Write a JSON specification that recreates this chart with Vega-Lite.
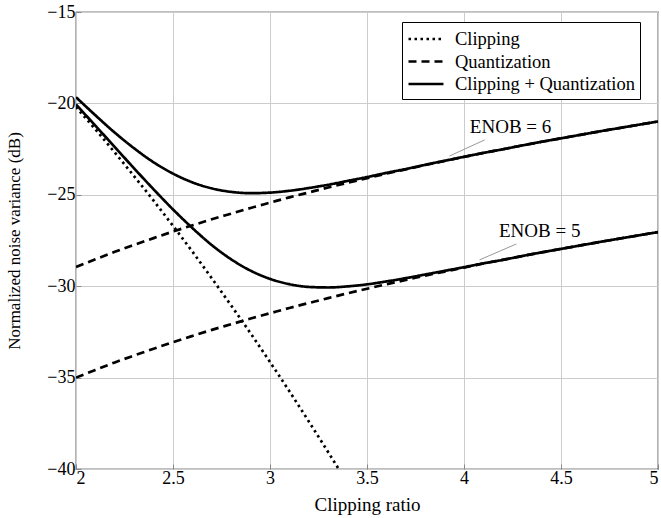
{
  "$schema": "https://vega.github.io/schema/vega-lite/v6.json",
  "autosize": "none",
  "width": 582,
  "height": 457,
  "padding": {"left": 76, "top": 12, "right": 3, "bottom": 49},
  "background": "white",
  "config": {
    "font": "Liberation Serif",
    "view": {"stroke": "black", "strokeWidth": 1.2},
    "axis": {
      "grid": true, "gridColor": "#cccccc", "gridWidth": 1,
      "domain": false,
      "ticks": true, "tickSize": -5, "tickColor": "#888888",
      "labelFont": "Liberation Serif", "labelFontSize": 18, "labelColor": "black",
      "titleFont": "Liberation Serif", "titleFontSize": 17, "titleFontWeight": "normal", "titleColor": "black"
    },
    "legend": {
      "orient": "none", "legendX": 326, "legendY": 10,
      "symbolType": "M-1,0H2.33", "symbolStrokeColor": "black", "symbolStrokeWidth": 2.5,
      "symbolSize": 441,
      "labelFont": "Liberation Serif", "labelFontSize": 18.5, "labelColor": "black",
      "labelOffset": 24, "labelLimit": 400,
      "strokeColor": "black", "fillColor": "white", "padding": 5, "rowPadding": 0.5
    }
  },
  "datasets": {
    "curves": [
      {"s": "clip", "k": "Clipping", "x": 2.0, "y": -20.20},
      {"s": "clip", "k": "Clipping", "x": 2.1, "y": -21.42},
      {"s": "clip", "k": "Clipping", "x": 2.2, "y": -22.69},
      {"s": "clip", "k": "Clipping", "x": 2.3, "y": -23.99},
      {"s": "clip", "k": "Clipping", "x": 2.4, "y": -25.32},
      {"s": "clip", "k": "Clipping", "x": 2.5, "y": -26.70},
      {"s": "clip", "k": "Clipping", "x": 2.6, "y": -28.11},
      {"s": "clip", "k": "Clipping", "x": 2.7, "y": -29.57},
      {"s": "clip", "k": "Clipping", "x": 2.8, "y": -31.06},
      {"s": "clip", "k": "Clipping", "x": 2.9, "y": -32.58},
      {"s": "clip", "k": "Clipping", "x": 3.0, "y": -34.15},
      {"s": "clip", "k": "Clipping", "x": 3.1, "y": -35.75},
      {"s": "clip", "k": "Clipping", "x": 3.2, "y": -37.40},
      {"s": "clip", "k": "Clipping", "x": 3.3, "y": -39.08},
      {"s": "clip", "k": "Clipping", "x": 3.354, "y": -40.0},

      {"s": "q6", "k": "Quantization", "x": 2.0, "y": -28.95},
      {"s": "q6", "k": "Quantization", "x": 2.1, "y": -28.53},
      {"s": "q6", "k": "Quantization", "x": 2.2, "y": -28.12},
      {"s": "q6", "k": "Quantization", "x": 2.3, "y": -27.74},
      {"s": "q6", "k": "Quantization", "x": 2.4, "y": -27.37},
      {"s": "q6", "k": "Quantization", "x": 2.5, "y": -27.01},
      {"s": "q6", "k": "Quantization", "x": 2.6, "y": -26.67},
      {"s": "q6", "k": "Quantization", "x": 2.7, "y": -26.34},
      {"s": "q6", "k": "Quantization", "x": 2.8, "y": -26.03},
      {"s": "q6", "k": "Quantization", "x": 2.9, "y": -25.72},
      {"s": "q6", "k": "Quantization", "x": 3.0, "y": -25.43},
      {"s": "q6", "k": "Quantization", "x": 3.1, "y": -25.14},
      {"s": "q6", "k": "Quantization", "x": 3.2, "y": -24.87},
      {"s": "q6", "k": "Quantization", "x": 3.3, "y": -24.60},
      {"s": "q6", "k": "Quantization", "x": 3.4, "y": -24.34},
      {"s": "q6", "k": "Quantization", "x": 3.5, "y": -24.09},
      {"s": "q6", "k": "Quantization", "x": 3.6, "y": -23.84},
      {"s": "q6", "k": "Quantization", "x": 3.7, "y": -23.61},
      {"s": "q6", "k": "Quantization", "x": 3.8, "y": -23.37},
      {"s": "q6", "k": "Quantization", "x": 3.9, "y": -23.15},
      {"s": "q6", "k": "Quantization", "x": 4.0, "y": -22.93},
      {"s": "q6", "k": "Quantization", "x": 4.1, "y": -22.71},
      {"s": "q6", "k": "Quantization", "x": 4.2, "y": -22.51},
      {"s": "q6", "k": "Quantization", "x": 4.3, "y": -22.30},
      {"s": "q6", "k": "Quantization", "x": 4.4, "y": -22.10},
      {"s": "q6", "k": "Quantization", "x": 4.5, "y": -21.91},
      {"s": "q6", "k": "Quantization", "x": 4.6, "y": -21.72},
      {"s": "q6", "k": "Quantization", "x": 4.7, "y": -21.53},
      {"s": "q6", "k": "Quantization", "x": 4.8, "y": -21.35},
      {"s": "q6", "k": "Quantization", "x": 4.9, "y": -21.17},
      {"s": "q6", "k": "Quantization", "x": 5.0, "y": -20.99},

      {"s": "q5", "k": "Quantization", "x": 2.0, "y": -35.00},
      {"s": "q5", "k": "Quantization", "x": 2.1, "y": -34.58},
      {"s": "q5", "k": "Quantization", "x": 2.2, "y": -34.17},
      {"s": "q5", "k": "Quantization", "x": 2.3, "y": -33.79},
      {"s": "q5", "k": "Quantization", "x": 2.4, "y": -33.42},
      {"s": "q5", "k": "Quantization", "x": 2.5, "y": -33.06},
      {"s": "q5", "k": "Quantization", "x": 2.6, "y": -32.72},
      {"s": "q5", "k": "Quantization", "x": 2.7, "y": -32.39},
      {"s": "q5", "k": "Quantization", "x": 2.8, "y": -32.08},
      {"s": "q5", "k": "Quantization", "x": 2.9, "y": -31.77},
      {"s": "q5", "k": "Quantization", "x": 3.0, "y": -31.48},
      {"s": "q5", "k": "Quantization", "x": 3.1, "y": -31.19},
      {"s": "q5", "k": "Quantization", "x": 3.2, "y": -30.92},
      {"s": "q5", "k": "Quantization", "x": 3.3, "y": -30.65},
      {"s": "q5", "k": "Quantization", "x": 3.4, "y": -30.39},
      {"s": "q5", "k": "Quantization", "x": 3.5, "y": -30.14},
      {"s": "q5", "k": "Quantization", "x": 3.6, "y": -29.89},
      {"s": "q5", "k": "Quantization", "x": 3.7, "y": -29.66},
      {"s": "q5", "k": "Quantization", "x": 3.8, "y": -29.42},
      {"s": "q5", "k": "Quantization", "x": 3.9, "y": -29.20},
      {"s": "q5", "k": "Quantization", "x": 4.0, "y": -28.98},
      {"s": "q5", "k": "Quantization", "x": 4.1, "y": -28.76},
      {"s": "q5", "k": "Quantization", "x": 4.2, "y": -28.56},
      {"s": "q5", "k": "Quantization", "x": 4.3, "y": -28.35},
      {"s": "q5", "k": "Quantization", "x": 4.4, "y": -28.15},
      {"s": "q5", "k": "Quantization", "x": 4.5, "y": -27.96},
      {"s": "q5", "k": "Quantization", "x": 4.6, "y": -27.77},
      {"s": "q5", "k": "Quantization", "x": 4.7, "y": -27.58},
      {"s": "q5", "k": "Quantization", "x": 4.8, "y": -27.40},
      {"s": "q5", "k": "Quantization", "x": 4.9, "y": -27.22},
      {"s": "q5", "k": "Quantization", "x": 5.0, "y": -27.04},

      {"s": "cq6", "k": "Clipping + Quantization", "x": 2.0, "y": -19.66},
      {"s": "cq6", "k": "Clipping + Quantization", "x": 2.1, "y": -20.65},
      {"s": "cq6", "k": "Clipping + Quantization", "x": 2.2, "y": -21.60},
      {"s": "cq6", "k": "Clipping + Quantization", "x": 2.3, "y": -22.46},
      {"s": "cq6", "k": "Clipping + Quantization", "x": 2.4, "y": -23.22},
      {"s": "cq6", "k": "Clipping + Quantization", "x": 2.5, "y": -23.84},
      {"s": "cq6", "k": "Clipping + Quantization", "x": 2.6, "y": -24.32},
      {"s": "cq6", "k": "Clipping + Quantization", "x": 2.7, "y": -24.65},
      {"s": "cq6", "k": "Clipping + Quantization", "x": 2.8, "y": -24.84},
      {"s": "cq6", "k": "Clipping + Quantization", "x": 2.9, "y": -24.91},
      {"s": "cq6", "k": "Clipping + Quantization", "x": 3.0, "y": -24.88},
      {"s": "cq6", "k": "Clipping + Quantization", "x": 3.1, "y": -24.78},
      {"s": "cq6", "k": "Clipping + Quantization", "x": 3.2, "y": -24.63},
      {"s": "cq6", "k": "Clipping + Quantization", "x": 3.3, "y": -24.45},
      {"s": "cq6", "k": "Clipping + Quantization", "x": 3.4, "y": -24.24},
      {"s": "cq6", "k": "Clipping + Quantization", "x": 3.5, "y": -24.03},
      {"s": "cq6", "k": "Clipping + Quantization", "x": 3.6, "y": -23.80},
      {"s": "cq6", "k": "Clipping + Quantization", "x": 3.7, "y": -23.59},
      {"s": "cq6", "k": "Clipping + Quantization", "x": 3.8, "y": -23.36},
      {"s": "cq6", "k": "Clipping + Quantization", "x": 3.9, "y": -23.14},
      {"s": "cq6", "k": "Clipping + Quantization", "x": 4.0, "y": -22.92},
      {"s": "cq6", "k": "Clipping + Quantization", "x": 4.1, "y": -22.71},
      {"s": "cq6", "k": "Clipping + Quantization", "x": 4.2, "y": -22.51},
      {"s": "cq6", "k": "Clipping + Quantization", "x": 4.3, "y": -22.30},
      {"s": "cq6", "k": "Clipping + Quantization", "x": 4.4, "y": -22.10},
      {"s": "cq6", "k": "Clipping + Quantization", "x": 4.5, "y": -21.91},
      {"s": "cq6", "k": "Clipping + Quantization", "x": 4.6, "y": -21.72},
      {"s": "cq6", "k": "Clipping + Quantization", "x": 4.7, "y": -21.53},
      {"s": "cq6", "k": "Clipping + Quantization", "x": 4.8, "y": -21.35},
      {"s": "cq6", "k": "Clipping + Quantization", "x": 4.9, "y": -21.17},
      {"s": "cq6", "k": "Clipping + Quantization", "x": 5.0, "y": -20.99},

      {"s": "cq5", "k": "Clipping + Quantization", "x": 2.0, "y": -20.06},
      {"s": "cq5", "k": "Clipping + Quantization", "x": 2.1, "y": -21.22},
      {"s": "cq5", "k": "Clipping + Quantization", "x": 2.2, "y": -22.39},
      {"s": "cq5", "k": "Clipping + Quantization", "x": 2.3, "y": -23.56},
      {"s": "cq5", "k": "Clipping + Quantization", "x": 2.4, "y": -24.70},
      {"s": "cq5", "k": "Clipping + Quantization", "x": 2.5, "y": -25.80},
      {"s": "cq5", "k": "Clipping + Quantization", "x": 2.6, "y": -26.82},
      {"s": "cq5", "k": "Clipping + Quantization", "x": 2.7, "y": -27.75},
      {"s": "cq5", "k": "Clipping + Quantization", "x": 2.8, "y": -28.53},
      {"s": "cq5", "k": "Clipping + Quantization", "x": 2.9, "y": -29.15},
      {"s": "cq5", "k": "Clipping + Quantization", "x": 3.0, "y": -29.60},
      {"s": "cq5", "k": "Clipping + Quantization", "x": 3.1, "y": -29.89},
      {"s": "cq5", "k": "Clipping + Quantization", "x": 3.2, "y": -30.04},
      {"s": "cq5", "k": "Clipping + Quantization", "x": 3.3, "y": -30.07},
      {"s": "cq5", "k": "Clipping + Quantization", "x": 3.4, "y": -30.01},
      {"s": "cq5", "k": "Clipping + Quantization", "x": 3.5, "y": -29.90},
      {"s": "cq5", "k": "Clipping + Quantization", "x": 3.6, "y": -29.74},
      {"s": "cq5", "k": "Clipping + Quantization", "x": 3.7, "y": -29.56},
      {"s": "cq5", "k": "Clipping + Quantization", "x": 3.8, "y": -29.36},
      {"s": "cq5", "k": "Clipping + Quantization", "x": 3.9, "y": -29.16},
      {"s": "cq5", "k": "Clipping + Quantization", "x": 4.0, "y": -28.96},
      {"s": "cq5", "k": "Clipping + Quantization", "x": 4.1, "y": -28.75},
      {"s": "cq5", "k": "Clipping + Quantization", "x": 4.2, "y": -28.56},
      {"s": "cq5", "k": "Clipping + Quantization", "x": 4.3, "y": -28.35},
      {"s": "cq5", "k": "Clipping + Quantization", "x": 4.4, "y": -28.15},
      {"s": "cq5", "k": "Clipping + Quantization", "x": 4.5, "y": -27.96},
      {"s": "cq5", "k": "Clipping + Quantization", "x": 4.6, "y": -27.77},
      {"s": "cq5", "k": "Clipping + Quantization", "x": 4.7, "y": -27.58},
      {"s": "cq5", "k": "Clipping + Quantization", "x": 4.8, "y": -27.40},
      {"s": "cq5", "k": "Clipping + Quantization", "x": 4.9, "y": -27.22},
      {"s": "cq5", "k": "Clipping + Quantization", "x": 5.0, "y": -27.04}
    ],
    "leaders": [
      {"x": 3.925, "y": -22.88, "x2": 4.106, "y2": -22.0},
      {"x": 4.08, "y": -28.56, "x2": 4.27, "y2": -27.69}
    ],
    "labels": [
      {"x": 4.24, "y": -21.31, "t": "ENOB = 6"},
      {"x": 4.39, "y": -26.96, "t": "ENOB = 5"}
    ]
  },
  "layer": [
    {
      "data": {"name": "curves"},
      "mark": {"type": "line", "interpolate": "monotone", "strokeWidth": 2.7, "color": "black", "clip": true, "strokeCap": "butt"},
      "encoding": {
        "x": {"field": "x", "type": "quantitative",
              "scale": {"domain": [2, 5], "nice": false, "zero": false},
              "axis": {"values": [2, 2.5, 3, 3.5, 4, 4.5, 5], "format": "~g", "title": "Clipping ratio", "titleFontSize": 19, "labelPadding": 5, "titlePadding": 8}},
        "y": {"field": "y", "type": "quantitative",
              "scale": {"domain": [-40, -15], "nice": false, "zero": false},
              "axis": {"values": [-40, -35, -30, -25, -20, -15], "format": "d", "title": "Normalized noise variance (dB)", "labelPadding": 6, "titlePadding": 23}},
        "detail": {"field": "s"},
        "strokeDash": {"field": "k", "type": "nominal",
                       "scale": {"domain": ["Clipping", "Quantization", "Clipping + Quantization"],
                                 "range": [[2.5, 3.5], [8, 5], [1, 0]]},
                       "legend": {"title": null}}
      }
    },
    {
      "data": {"name": "leaders"},
      "mark": {"type": "rule", "color": "#999999", "strokeWidth": 1},
      "encoding": {
        "x": {"field": "x", "type": "quantitative"},
        "y": {"field": "y", "type": "quantitative"},
        "x2": {"field": "x2"},
        "y2": {"field": "y2"}
      }
    },
    {
      "data": {"name": "labels"},
      "mark": {"type": "text", "font": "Liberation Serif", "fontSize": 19, "color": "black", "align": "center", "baseline": "middle"},
      "encoding": {
        "x": {"field": "x", "type": "quantitative"},
        "y": {"field": "y", "type": "quantitative"},
        "text": {"field": "t"}
      }
    }
  ]
}
